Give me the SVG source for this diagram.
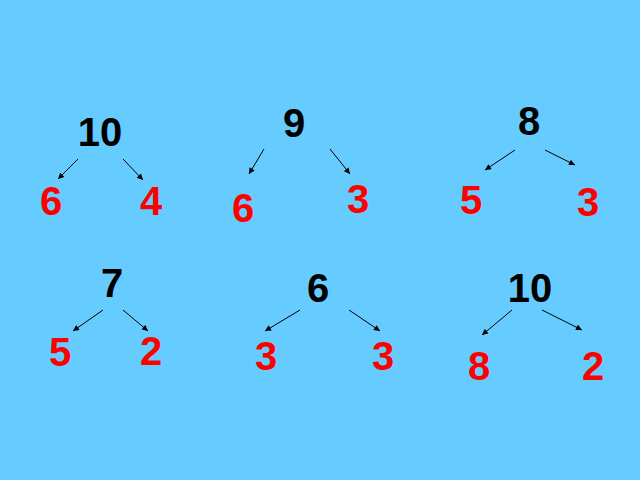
<svg xmlns="http://www.w3.org/2000/svg" width="640" height="480" viewBox="0 0 640 480">
<style>
text{font-family:"Liberation Sans",Arial,sans-serif;font-weight:bold;font-size:40px;text-anchor:middle}
.k{fill:#000}
.r{fill:#FF0000}
.c line{stroke:#000;stroke-width:1;marker-end:url(#ah)}
</style>
<defs>
<marker id="ah" viewBox="0 0 10 10" refX="10" refY="5" markerWidth="7" markerHeight="6" markerUnits="userSpaceOnUse" orient="auto">
<path d="M0,0 L10,5 L0,10 z" fill="#000"/>
</marker>
</defs>
<rect width="640" height="480" fill="#66CCFF"/>
<g id="tree1">
<text class="k" x="100" y="146">10</text>
<text class="r" x="51" y="215">6</text>
<text class="r" x="151" y="215">4</text>
</g>
<g id="tree2">
<text class="k" x="294" y="137">9</text>
<text class="r" x="243" y="222">6</text>
<text class="r" x="358" y="213">3</text>
</g>
<g id="tree3">
<text class="k" x="529" y="135">8</text>
<text class="r" x="471" y="214">5</text>
<text class="r" x="588" y="216">3</text>
</g>
<g id="tree4">
<text class="k" x="112" y="297">7</text>
<text class="r" x="60" y="366">5</text>
<text class="r" x="151" y="365">2</text>
</g>
<g id="tree5">
<text class="k" x="318" y="302">6</text>
<text class="r" x="266" y="370">3</text>
<text class="r" x="383" y="370">3</text>
</g>
<g id="tree6">
<text class="k" x="530" y="302">10</text>
<text class="r" x="479" y="380">8</text>
<text class="r" x="593" y="380">2</text>
</g>
<g id="connectors" class="c">
<line x1="78" y1="159" x2="58" y2="179"/>
<line x1="123" y1="159" x2="143" y2="180"/>
<line x1="264" y1="149" x2="249" y2="174"/>
<line x1="330" y1="149" x2="350" y2="174"/>
<line x1="515" y1="150" x2="485" y2="170"/>
<line x1="545" y1="150" x2="575" y2="165"/>
<line x1="103" y1="310" x2="73" y2="331"/>
<line x1="123" y1="310" x2="148" y2="331"/>
<line x1="300" y1="310" x2="265" y2="331"/>
<line x1="349" y1="310" x2="380" y2="331"/>
<line x1="512" y1="310" x2="482" y2="335"/>
<line x1="542" y1="310" x2="582" y2="330"/>
</g>
</svg>
